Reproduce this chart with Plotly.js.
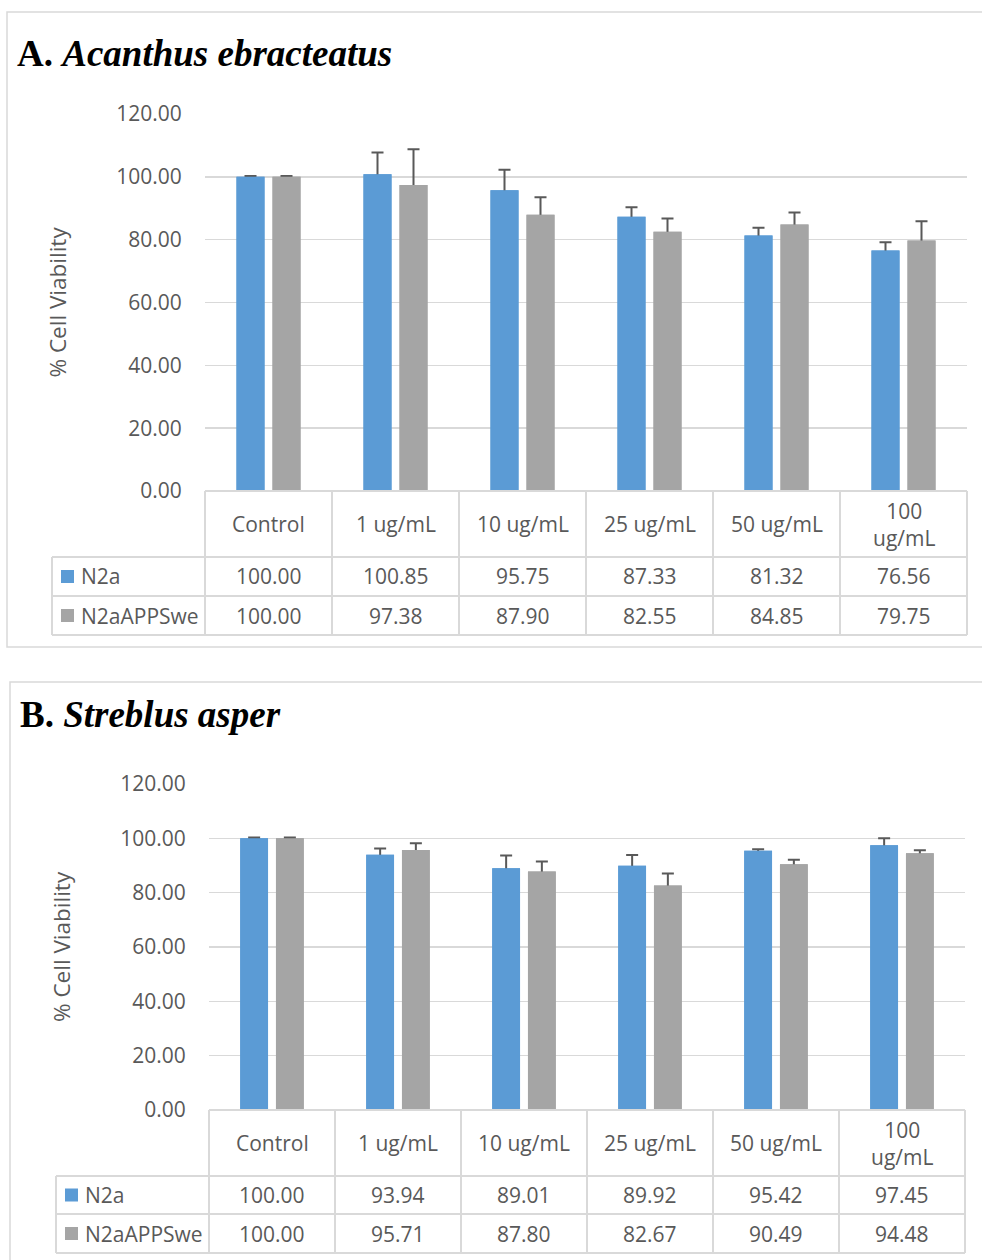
<!DOCTYPE html>
<html>
<head>
<meta charset="utf-8">
<script src="https://cdn.plot.ly/plotly-3.0.1.min.js"></script>
<style>html,body{margin:0;padding:0;background:#fff}#chart{width:982px;height:1260px}</style>
</head>
<body>
<div id="chart"></div>
<script>
// ---------- data ----------
const categories   = ['Control', '1 ug/mL', '10 ug/mL', '25 ug/mL', '50 ug/mL', '100 ug/mL'];
const headerLabels = ['Control', '1 ug/mL', '10 ug/mL', '25 ug/mL', '50 ug/mL', '100<br>ug/mL'];
const seriesNames  = ['N2a', 'N2aAPPSwe'];
const yTicks       = [0, 20, 40, 60, 80, 100, 120];

const titleA  = '<b>A. <i>Acanthus ebracteatus</i></b>';
const aN2a    = [100.00, 100.85, 95.75, 87.33, 81.32, 76.56];
const aAPP    = [100.00, 97.38, 87.90, 82.55, 84.85, 79.75];
const aN2aErr = [0.3, 6.9, 6.5, 3.0, 2.5, 2.6];
const aAPPErr = [0.3, 11.4, 5.6, 4.2, 3.8, 6.1];

const titleB  = '<b>B. <i>Streblus asper</i></b>';
const bN2a    = [100.00, 93.94, 89.01, 89.92, 95.42, 97.45];
const bAPP    = [100.00, 95.71, 87.80, 82.67, 90.49, 94.48];
const bN2aErr = [0.3, 2.3, 4.7, 3.9, 0.6, 2.6];
const bAPPErr = [0.3, 2.5, 3.7, 4.4, 1.6, 1.1];

// ---------- style ----------
const W = 982, H = 1260;
const BLUE = '#5B9BD5', GRAY = '#A5A5A5', TXT = '#595959', LINE = '#D9D9D9';
const FONT = 'Open Sans, Noto Sans, sans-serif';
const px = v => v / W;
const py = v => 1 - v / H;

const traces = [];
const shapes = [];
const annotations = [];
const layout = {
  width: W, height: H,
  margin: {l: 0, r: 0, t: 0, b: 0, pad: 0},
  paper_bgcolor: '#fff', plot_bgcolor: 'rgba(0,0,0,0)',
  showlegend: false,
  barmode: 'group', bargap: 0.433, bargroupgap: 0.222,
  font: {family: FONT, color: TXT, size: 21},
  shapes: shapes, annotations: annotations
};

function panel(p) {
  const xa = 'x' + (p.idx === 1 ? '' : p.idx), ya = 'y' + (p.idx === 1 ? '' : p.idx);
  const xo = 'x' + (p.idx + 1), yo = 'y' + (p.idx + 1);
  const xKey = 'xaxis' + (p.idx === 1 ? '' : p.idx), yKey = 'yaxis' + (p.idx === 1 ? '' : p.idx);
  const xoKey = 'xaxis' + (p.idx + 1), yoKey = 'yaxis' + (p.idx + 1);
  const dom = [px(p.left), px(p.right)];
  const ydom = [py(p.bottom), py(p.top)];

  layout[xKey] = {domain: dom, anchor: ya, type: 'category', range: [-0.5, 5.5],
    showticklabels: false, showgrid: false, zeroline: false, showline: false, ticks: '', fixedrange: true};
  layout[yKey] = {domain: ydom, anchor: xa, range: [0, 120], tickvals: yTicks, tickformat: '.2f',
    showgrid: true, gridcolor: LINE, gridwidth: 1.6, zeroline: false, showline: false,
    ticks: 'outside', ticklen: 18, tickcolor: 'rgba(0,0,0,0)',
    tickfont: {family: FONT, size: 21, color: TXT}, fixedrange: true};
  layout[xoKey] = {domain: dom, overlaying: xa, anchor: yo, type: 'category', range: [-0.5, 5.5],
    visible: false, showgrid: false, zeroline: false};
  layout[yoKey] = {domain: ydom, overlaying: ya, anchor: xo, range: [0, 120],
    visible: false, showgrid: false, zeroline: false};

  const vals = [p.n2a, p.app], errs = [p.n2aErr, p.appErr], cols = [BLUE, GRAY];
  // bars with error bars
  for (let s = 0; s < 2; s++) {
    traces.push({type: 'bar', name: seriesNames[s], x: categories, y: vals[s], xaxis: xa, yaxis: ya,
      marker: {color: cols[s]}, hoverinfo: 'skip',
      error_y: {type: 'data', array: errs[s], symmetric: true, color: '#595959', thickness: 2, width: 6}});
  }
  // same bars on an overlay so only the upper half of each error bar shows (Excel "plus" style)
  for (let s = 0; s < 2; s++) {
    traces.push({type: 'bar', name: seriesNames[s], x: categories, y: vals[s], xaxis: xo, yaxis: yo,
      marker: {color: cols[s]}, hoverinfo: 'skip'});
  }

  // panel frame
  shapes.push({type: 'rect', xref: 'paper', yref: 'paper', x0: px(p.box[0]), x1: px(W + 20),
    y0: py(p.box[2]), y1: py(p.box[1]), line: {color: LINE, width: 1.5}, fillcolor: 'rgba(0,0,0,0)', layer: 'below'});

  // data table grid
  const cw = (p.right - p.left) / categories.length;
  const r = p.rows;
  const ln = (x0, y0, x1, y1) => shapes.push({type: 'line', xref: 'paper', yref: 'paper',
    x0: px(x0), x1: px(x1), y0: py(y0), y1: py(y1), line: {color: LINE, width: 2}});
  ln(p.left, r[0], p.right, r[0]);
  for (let i = 1; i < r.length; i++) ln(p.legLeft, r[i], p.right, r[i]);
  for (let i = 0; i <= categories.length; i++) ln(p.left + i * cw, r[0], p.left + i * cw, r[3]);
  ln(p.legLeft, r[1], p.legLeft, r[3]);

  // header and values
  categories.forEach((c, i) => {
    annotations.push({xref: xa, yref: 'paper', x: c, y: py((r[0] + r[1]) / 2), text: headerLabels[i],
      showarrow: false, xanchor: 'center', yanchor: 'middle', font: {family: FONT, size: 21, color: TXT}});
    for (let s = 0; s < 2; s++) {
      annotations.push({xref: xa, yref: 'paper', x: c, y: py((r[s + 1] + r[s + 2]) / 2),
        text: vals[s][i].toFixed(2), showarrow: false, xanchor: 'center', yanchor: 'middle',
        font: {family: FONT, size: 21, color: TXT}});
    }
  });
  // legend keys
  for (let s = 0; s < 2; s++) {
    const cy = (r[s + 1] + r[s + 2]) / 2;
    shapes.push({type: 'rect', xref: 'paper', yref: 'paper', x0: px(p.sw), x1: px(p.sw + 13),
      y0: py(cy + 6.5), y1: py(cy - 6.5), fillcolor: cols[s], line: {width: 0}});
    annotations.push({xref: 'paper', yref: 'paper', x: px(p.sw + 18), y: py(cy), text: seriesNames[s],
      showarrow: false, xanchor: 'left', yanchor: 'middle', font: {family: FONT, size: 21, color: TXT}});
  }
  // titles
  annotations.push({xref: 'paper', yref: 'paper', x: px(p.tx), y: py(p.ty), text: p.title, showarrow: false,
    xanchor: 'left', yanchor: 'middle', font: {family: 'Liberation Serif, Times New Roman, serif', size: 37, color: '#000'}});
  annotations.push({xref: 'paper', yref: 'paper', x: px(p.ytx), y: py((p.top + p.bottom) / 2),
    text: '% Cell Viability', textangle: -90, showarrow: false, xanchor: 'center', yanchor: 'middle',
    font: {family: FONT, size: 22.5, color: TXT}});
}

panel({idx: 1, title: titleA, n2a: aN2a, app: aAPP, n2aErr: aN2aErr, appErr: aAPPErr,
  left: 205, right: 967, top: 114, bottom: 491, rows: [491, 557, 596, 635], legLeft: 52, sw: 61,
  box: [7, 12, 647], tx: 15, ty: 54, ytx: 57});
panel({idx: 3, title: titleB, n2a: bN2a, app: bAPP, n2aErr: bN2aErr, appErr: bAPPErr,
  left: 209, right: 965, top: 784, bottom: 1110, rows: [1110, 1176, 1214, 1253], legLeft: 56, sw: 65,
  box: [10, 682, 1275], tx: 18, ty: 714, ytx: 61});

Plotly.newPlot('chart', traces, layout, {displayModeBar: false, staticPlot: true});
</script>
</body>
</html>
